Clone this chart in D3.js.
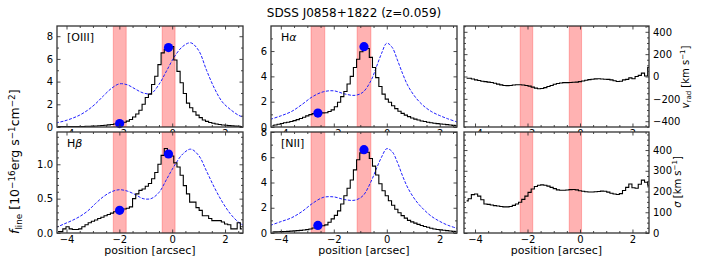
<!DOCTYPE html>
<html><head><meta charset="utf-8">
<script src="https://cdn.jsdelivr.net/npm/d3@7"></script>
<style>body{margin:0;background:#fff}svg{display:block;font-family:"DejaVu Sans",sans-serif}</style>
</head><body><svg id="c" width="714" height="259"></svg>
<script>
// ---------- data ----------
const positions = [-4.32,-4.20,-4.08,-3.96,-3.84,-3.72,-3.60,-3.48,-3.36,-3.24,-3.12,-3.00,-2.88,-2.76,-2.64,-2.52,-2.40,-2.28,-2.16,-2.04,-1.92,-1.80,-1.68,-1.56,-1.44,-1.32,-1.20,-1.08,-0.96,-0.84,-0.72,-0.60,-0.48,-0.36,-0.24,-0.12,0.00,0.12,0.24,0.36,0.48,0.60,0.72,0.84,0.96,1.08,1.20,1.32,1.44,1.56,1.68,1.80,1.92,2.04,2.16,2.28,2.40,2.52,2.64];

const fluxOIII = [0.03,0.03,0.03,0.04,0.04,0.04,0.05,0.05,0.05,0.06,0.07,0.08,0.09,0.11,0.13,0.16,0.19,0.22,0.26,0.30,0.35,0.42,0.52,0.66,0.88,1.15,1.47,2.00,2.60,2.90,3.74,4.47,5.50,6.53,6.85,7.12,7.10,5.90,4.90,3.90,2.95,2.10,1.70,1.35,1.05,0.83,0.62,0.50,0.40,0.33,0.27,0.22,0.18,0.15,0.12,0.10,0.08,0.06,0.05];
const fluxHb = [0.02,0.02,0.06,0.09,0.06,0.05,0.05,0.06,0.09,0.12,0.15,0.17,0.19,0.21,0.23,0.25,0.27,0.29,0.31,0.33,0.34,0.35,0.36,0.38,0.50,0.57,0.62,0.64,0.68,0.72,0.79,0.88,1.00,1.13,1.23,1.17,1.12,1.02,0.96,0.84,0.69,0.57,0.45,0.45,0.37,0.33,0.25,0.25,0.21,0.18,0.18,0.18,0.16,0.13,0.12,0.06,0.06,0.15,0.06];
const fluxHa = [0.10,0.16,0.22,0.28,0.33,0.38,0.43,0.50,0.58,0.67,0.77,0.88,0.98,1.06,1.12,1.14,1.12,1.13,1.22,1.35,1.60,1.95,2.40,2.80,3.40,4.00,4.70,5.35,5.95,6.35,6.20,5.50,4.70,3.90,3.20,2.60,2.20,1.95,1.68,1.45,1.25,1.08,0.94,0.82,0.71,0.62,0.55,0.48,0.43,0.38,0.34,0.30,0.27,0.24,0.22,0.19,0.16,0.13,0.10];
const fluxNII = [0.08,0.09,0.10,0.11,0.12,0.13,0.15,0.17,0.19,0.21,0.24,0.27,0.32,0.40,0.50,0.56,0.58,0.64,0.85,1.12,1.40,1.75,2.30,2.95,3.55,4.20,5.00,5.80,6.35,6.55,6.40,5.90,5.30,4.60,3.90,3.35,2.95,2.55,2.20,1.88,1.60,1.38,1.18,1.00,0.88,0.78,0.68,0.60,0.52,0.45,0.38,0.32,0.28,0.25,0.22,0.19,0.16,0.13,0.10];
const vrad = [-15,-15,-22,-30,-36,-42,-46,-50,-54,-60,-68,-75,-80,-82,-80,-76,-74,-74,-76,-80,-86,-95,-104,-110,-108,-100,-90,-80,-70,-62,-58,-55,-55,-54,-52,-50,-46,-40,-34,-28,-24,-21,-20,-22,-24,-26,-30,-38,-45,-42,-30,-26,-12,-20,0,10,30,5,80];
const sigma = [155,165,185,188,178,160,140,138,135,132,130,128,126,126,128,133,140,148,162,178,196,212,224,230,232,230,226,220,214,208,206,206,207,209,210,208,204,201,199,198,198,199,200,202,201,197,192,188,186,190,205,220,236,218,216,235,255,245,230];

const blueXLeft = [-4.4,-4.1,-3.8,-3.5,-3.2,-2.9,-2.6,-2.3,-2.0,-1.7,-1.4,-1.1,-0.8,-0.5,-0.2,0.1,0.4,0.7,1.0,1.3,1.6,1.9,2.2,2.5,2.7];
const blueOIII = [0.36,0.52,0.75,1.05,1.48,2.05,2.75,3.40,3.80,3.72,3.35,3.00,2.95,3.75,5.00,6.25,7.10,7.42,6.75,5.00,3.40,2.20,1.55,1.05,0.85];
const blueHb = [0.08,0.13,0.18,0.24,0.32,0.43,0.53,0.60,0.63,0.61,0.56,0.50,0.50,0.59,0.79,0.99,1.15,1.22,1.13,0.90,0.66,0.45,0.28,0.16,0.11];
const blueXMid = [-4.4,-4.0,-3.6,-3.2,-2.8,-2.4,-2.0,-1.6,-1.2,-0.9,-0.6,-0.4,-0.2,0.0,0.2,0.4,0.6,0.8,1.1,1.4,1.7,2.0,2.3,2.65];
const blueHa = [0.60,0.88,1.22,1.78,2.40,2.78,2.86,2.62,2.50,2.75,3.65,4.70,5.80,6.62,6.30,5.30,4.20,3.25,2.30,1.65,1.20,0.90,0.65,0.40];
const blueNII = [0.60,0.90,1.20,1.70,2.35,2.82,2.86,2.65,2.60,2.95,4.05,5.05,6.00,6.68,6.45,5.60,4.50,3.55,2.55,1.85,1.30,0.92,0.62,0.37];

const bandsLeft = [[-2.23,-1.74],[-0.38,0.11]];
const bandsMid = [[-2.86,-2.34],[-1.12,-0.60]];
const bandsRight = [[-2.28,-1.80],[-0.41,0.06]];

const dotsOIII = [[-1.99,0.30],[-0.14,7.00]];
const dotsHb = [[-1.99,0.33],[-0.14,1.15]];
const dotsHa = [[-2.60,1.10],[-0.86,6.35]];
const dotsNII = [[-2.60,0.60],[-0.86,6.60]];

const xTicks = [-4,-2,0,2];
const ticksOIII = [0,2,4,6,8];
const ticksHa = [0,2,4,6];
const ticksVrad = [-400,-200,0,200,400];
const ticksHb = [0.0,0.5,1.0];
const ticksNII = [0,2,4,6,8];
const ticksSigma = [0,100,200,300,400];

// ---------- layout ----------
const svg = d3.select("#c");
const cols = [{x0:57,x1:243,dom:[-4.36,2.68]},{x0:271,x1:457,dom:[-4.37,2.65]},{x0:464,x1:649,dom:[-4.42,2.63]}];
const rows = [{y0:26,y1:127},{y0:132,y1:233}];
const FRAME = "#333";
const minus = d => (d<0 ? "\u2212"+Math.abs(d) : String(d));

const panels = [
  {c:0,r:0,y:fluxOIII,bx:blueXLeft,b:blueOIII,dom:[0,8.9],ticks:ticksOIII,minor:1,fmt:minus,label:["[OIII]"],bands:bandsLeft,dots:dotsOIII},
  {c:1,r:0,y:fluxHa,bx:blueXMid,b:blueHa,dom:[0,7.98],ticks:ticksHa,minor:1,fmt:minus,label:["H","\u03b1"],bands:bandsMid,dots:dotsHa},
  {c:2,r:0,y:vrad,dom:[-452,452],ticks:ticksVrad,minor:50,fmt:minus,right:true,bands:bandsRight},
  {c:0,r:1,y:fluxHb,bx:blueXLeft,b:blueHb,dom:[0,1.47],ticks:ticksHb,minor:0.1,fmt:d3.format(".1f"),label:["H","\u03b2"],bands:bandsLeft,dots:dotsHb},
  {c:1,r:1,y:fluxNII,bx:blueXMid,b:blueNII,dom:[0,8.0],ticks:ticksNII,minor:1,fmt:minus,label:["[NII]"],bands:bandsMid,dots:dotsNII},
  {c:2,r:1,y:sigma,dom:[0,487],ticks:ticksSigma,minor:25,fmt:minus,right:true,bands:bandsRight}
];

panels.forEach((p,i)=>{
  const C = cols[p.c], R = rows[p.r];
  const x = d3.scaleLinear().domain(C.dom).range([C.x0,C.x1]);
  const y = d3.scaleLinear().domain(p.dom).range([R.y1,R.y0]);
  const g = svg.append("g");
  g.append("rect").attr("x",C.x0).attr("y",R.y0).attr("width",C.x1-C.x0).attr("height",R.y1-R.y0).attr("fill","#fff");
  const cid = "clip"+i;
  g.append("clipPath").attr("id",cid).append("rect").attr("x",C.x0).attr("y",R.y0).attr("width",C.x1-C.x0).attr("height",R.y1-R.y0);
  const d = g.append("g").attr("clip-path",`url(#${cid})`);
  d.selectAll("rect.band").data(p.bands).join("rect").attr("class","band")
    .attr("x",b=>x(b[0])).attr("width",b=>x(b[1])-x(b[0]))
    .attr("y",R.y0).attr("height",R.y1-R.y0)
    .attr("fill","rgba(255,0,0,0.3)").attr("stroke","rgba(255,0,0,0.25)").attr("stroke-width",1);
  if (p.b) {
    const bl = d3.line().x((v,k)=>x(p.bx[k])).y(v=>y(v)).curve(d3.curveCatmullRom.alpha(0.5));
    d.append("path").attr("d",bl(p.b)).attr("fill","none").attr("stroke","#1f1fff").attr("stroke-width",1).attr("stroke-dasharray","3,1.5");
  }
  const sl = d3.line().x((v,k)=>x(positions[k])).y(v=>y(v)).curve(d3.curveStep);
  d.append("path").attr("d",sl(p.y)).attr("fill","none").attr("stroke","#000").attr("stroke-width",1.1);
  if (p.dots) {
    g.selectAll("circle").data(p.dots).join("circle")
      .attr("cx",q=>x(q[0])).attr("cy",q=>y(q[1])).attr("r",4.6).attr("fill","#0000ff");
  }
  const T = 3.5, t = 2;
  const xMinor = d3.range(-4.5,3,0.5).filter(v=>v>=C.dom[0]&&v<=C.dom[1]&&!xTicks.includes(v));
  const yMinor = d3.range(p.dom[0]-((p.dom[0]%p.minor)+p.minor)%p.minor, p.dom[1]+1e-9, p.minor)
      .map(v=>+v.toFixed(4)).filter(v=>v>=p.dom[0]&&v<=p.dom[1]&&!p.ticks.some(tk=>Math.abs(tk-v)<1e-6));
  const style = a => { a.select(".domain").remove(); a.selectAll("line").attr("stroke",FRAME).attr("stroke-width",0.9); a.selectAll("text").attr("fill","#000").style("font-size","10px").style("font-family","DejaVu Sans"); };
  g.append("g").attr("transform",`translate(0,${R.y1})`).call(d3.axisBottom(x).tickValues(xTicks).tickSize(-T).tickPadding(3).tickFormat(minus)).call(style);
  g.append("g").attr("transform",`translate(0,${R.y1})`).call(d3.axisBottom(x).tickValues(xMinor).tickSize(-t).tickFormat("")).call(style);
  g.append("g").attr("transform",`translate(0,${R.y0})`).call(d3.axisTop(x).tickValues(xTicks).tickSize(-T).tickFormat("")).call(style);
  g.append("g").attr("transform",`translate(0,${R.y0})`).call(d3.axisTop(x).tickValues(xMinor).tickSize(-t).tickFormat("")).call(style);
  g.append("g").attr("transform",`translate(${C.x0},0)`).call(d3.axisLeft(y).tickValues(p.ticks).tickSize(-T).tickPadding(4).tickFormat(p.right?"":p.fmt)).call(style);
  g.append("g").attr("transform",`translate(${C.x0},0)`).call(d3.axisLeft(y).tickValues(yMinor).tickSize(-t).tickFormat("")).call(style);
  g.append("g").attr("transform",`translate(${C.x1},0)`).call(d3.axisRight(y).tickValues(p.ticks).tickSize(-T).tickPadding(4).tickFormat(p.right?p.fmt:"")).call(style);
  g.append("g").attr("transform",`translate(${C.x1},0)`).call(d3.axisRight(y).tickValues(yMinor).tickSize(-t).tickFormat("")).call(style);
  g.append("rect").attr("x",C.x0).attr("y",R.y0).attr("width",C.x1-C.x0).attr("height",R.y1-R.y0)
    .attr("fill","none").attr("stroke",FRAME).attr("stroke-width",1.3);
  if (p.label) {
    const tx = g.append("text").attr("x",C.x0+10).attr("y",R.y0+14.5).style("font-size","11px");
    tx.append("tspan").text(p.label[0]);
    if (p.label[1]) tx.append("tspan").style("font-style","italic").text(p.label[1]);
  }
});

// title
svg.append("text").attr("x",354).attr("y",17).attr("text-anchor","middle").style("font-size","12px").text("SDSS J0858+1822 (z=0.059)");
// x labels
cols.forEach(C=>{
  svg.append("text").attr("x",(C.x0+C.x1)/2).attr("y",253.5).attr("text-anchor","middle").style("font-size","11px").text("position [arcsec]");
});
// y label left
{
  const t = svg.append("text").attr("transform","translate(19,234) rotate(-90)").attr("text-anchor","start").style("font-size","12.5px");
  t.append("tspan").style("font-style","italic").text("f");
  t.append("tspan").attr("dy",2.8).style("font-size","8.8px").text("line");
  t.append("tspan").attr("dy",-2.8).text(" [10");
  t.append("tspan").attr("dy",-4.5).style("font-size","8.8px").text("\u221216");
  t.append("tspan").attr("dy",4.5).text("erg s");
  t.append("tspan").attr("dy",-4.5).style("font-size","8.8px").text("\u22121");
  t.append("tspan").attr("dy",4.5).text("cm");
  t.append("tspan").attr("dy",-4.5).style("font-size","8.8px").text("\u22122");
  t.append("tspan").attr("dy",4.5).text("]");
}
// right labels
{
  const t = svg.append("text").attr("transform","translate(689,77) rotate(-90)").attr("text-anchor","middle").style("font-size","10px");
  t.append("tspan").style("font-style","italic").text("v");
  t.append("tspan").attr("dy",2.3).style("font-size","7px").text("rad");
  t.append("tspan").attr("dy",-2.3).text(" [km s");
  t.append("tspan").attr("dy",-3.6).style("font-size","7px").text("\u22121");
  t.append("tspan").attr("dy",3.6).text("]");
  const s = svg.append("text").attr("transform","translate(681,182) rotate(-90)").attr("text-anchor","middle").style("font-size","10px");
  s.append("tspan").style("font-style","italic").text("\u03c3");
  s.append("tspan").text(" [km s");
  s.append("tspan").attr("dy",-3.6).style("font-size","7px").text("\u22121");
  s.append("tspan").attr("dy",3.6).text("]");
}
</script></body></html>
